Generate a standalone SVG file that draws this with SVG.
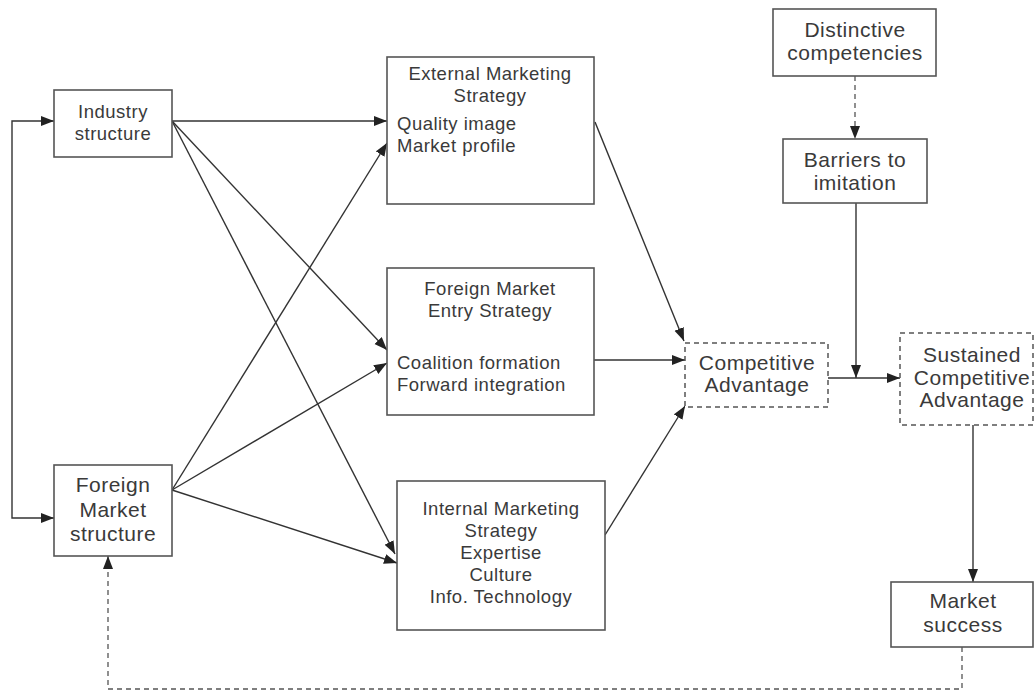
<svg xmlns="http://www.w3.org/2000/svg" width="1035" height="691" viewBox="0 0 1035 691">
<style>
.box{fill:#fff;stroke:#555;stroke-width:1.6}
.dbox{fill:#fff;stroke:#555;stroke-width:1.5;stroke-dasharray:5 4}
text{font-family:"Liberation Sans",Arial,sans-serif;font-size:18.5px;fill:#3a3a3a;letter-spacing:0.5px}
.big{font-size:21px}
.c{text-anchor:middle}
.ln{fill:none;stroke:#333;stroke-width:1.4;marker-end:url(#ah)}
.dl{fill:none;stroke:#555;stroke-width:1.3;stroke-dasharray:5 4}
</style>
<defs>
<marker id="ah" markerUnits="userSpaceOnUse" markerWidth="14" markerHeight="11" refX="13" refY="5" orient="auto">
<path d="M0,0 L13,5 L0,10 z" fill="#222"/>
</marker>
</defs>
<rect width="1035" height="691" fill="#fff"/>
<g id="connectors">
<path class="ln" d="M12,320 V121 H54"/>
<path class="ln" d="M12,320 V518 H54"/>
<path class="ln" d="M172,121 H387"/>
<path class="ln" d="M172,121 L387,350"/>
<path class="ln" d="M172,121 L395,554"/>
<path class="ln" d="M172,490 L387,143"/>
<path class="ln" d="M172,490 L387,363"/>
<path class="ln" d="M172,490 L397,563"/>
<path class="ln" d="M595,122 L684,341"/>
<path class="ln" d="M594,360 H685"/>
<path class="ln" d="M605,535 L685,406"/>
<path class="dl" d="M855,76 V139" marker-end="url(#ah)"/>
<path class="ln" d="M856,203 V378"/>
<path class="ln" d="M828,378 H900"/>
<path class="ln" d="M973,425 V582"/>
<path class="dl" d="M962,647 V689 H108 V556" marker-end="url(#ah)"/>
</g>
<g id="industry">
<rect class="box" x="54" y="90" width="118" height="67"/>
<text class="c" x="113" y="118">Industry</text>
<text class="c" x="113" y="140">structure</text>
</g>
<g id="foreign-structure">
<rect class="box" x="54" y="465" width="118" height="91"/>
<text class="c big" x="113" y="492">Foreign</text>
<text class="c big" x="113" y="517">Market</text>
<text class="c big" x="113" y="541">structure</text>
</g>
<g id="external">
<rect class="box" x="387" y="57" width="207" height="147"/>
<text class="c" x="490" y="80">External Marketing</text>
<text class="c" x="490" y="102">Strategy</text>
<text x="397" y="130">Quality image</text>
<text x="397" y="152">Market profile</text>
</g>
<g id="entry">
<rect class="box" x="387" y="268" width="207" height="147"/>
<text class="c" x="490" y="295">Foreign Market</text>
<text class="c" x="490" y="317">Entry Strategy</text>
<text x="397" y="369">Coalition formation</text>
<text x="397" y="391">Forward integration</text>
</g>
<g id="internal">
<rect class="box" x="397" y="481" width="208" height="149"/>
<text class="c" x="501" y="515">Internal Marketing</text>
<text class="c" x="501" y="537">Strategy</text>
<text class="c" x="501" y="559">Expertise</text>
<text class="c" x="501" y="581">Culture</text>
<text class="c" x="501" y="603">Info. Technology</text>
</g>
<g id="distinctive">
<rect class="box" x="773" y="9" width="163" height="67"/>
<text class="c big" x="855" y="37">Distinctive</text>
<text class="c big" x="855" y="60">competencies</text>
</g>
<g id="barriers">
<rect class="box" x="783" y="139" width="144" height="64"/>
<text class="c big" x="855" y="167">Barriers to</text>
<text class="c big" x="855" y="190">imitation</text>
</g>
<g id="competitive">
<rect class="dbox" x="685" y="343" width="143" height="64"/>
<text class="c big" x="757" y="370">Competitive</text>
<text class="c big" x="757" y="392">Advantage</text>
</g>
<g id="sustained">
<rect class="dbox" x="900" y="333" width="133" height="92"/>
<text class="c big" x="972" y="362">Sustained</text>
<text class="c big" x="972" y="385">Competitive</text>
<text class="c big" x="972" y="407">Advantage</text>
</g>
<g id="market-success">
<rect class="box" x="891" y="582" width="142" height="65"/>
<text class="c big" x="963" y="608">Market</text>
<text class="c big" x="963" y="632">success</text>
</g>
</svg>
